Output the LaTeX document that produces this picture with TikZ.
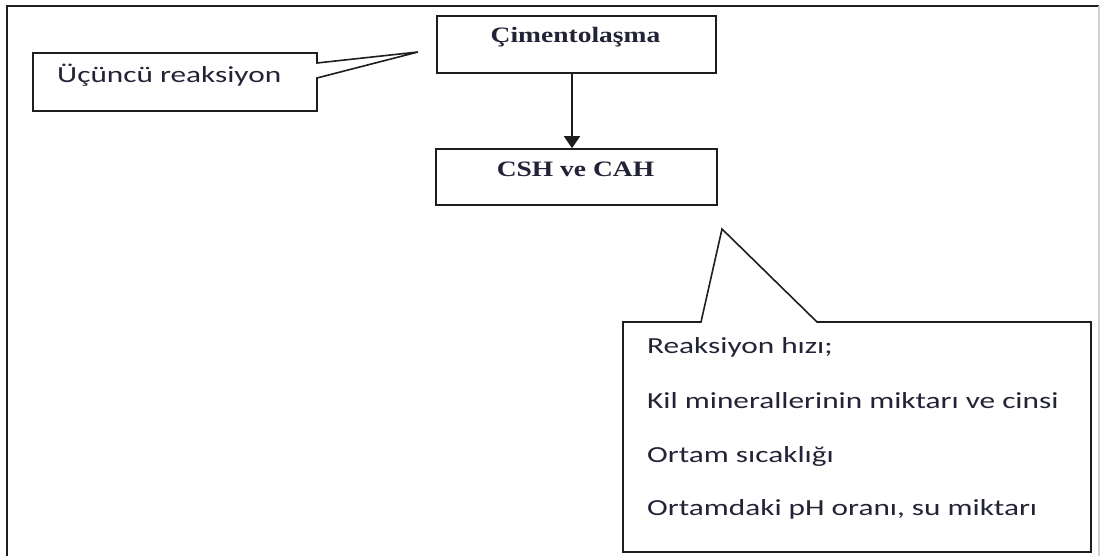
\documentclass[tikz,border=0pt]{standalone}
\usepackage{fontspec}
\setmainfont{Liberation Serif}
\newfontfamily\serifw[FakeStretch=1.25]{Liberation Serif}
\newfontfamily\sansw[FakeStretch=1.36]{Carlito}
\usetikzlibrary{arrows.meta}
\definecolor{txt}{RGB}{35,35,55}
\definecolor{ln}{RGB}{30,30,30}
\begin{document}
\begin{tikzpicture}[x=1pt,y=-1pt,
  boxline/.style={draw=ln, line width=1.6pt},
  stepbox/.style={boxline, rectangle, inner sep=0pt},
  serlabel/.style={anchor=base, text=txt, font=\serifw\bfseries\fontsize{22}{26}\selectfont},
  sanlabel/.style={anchor=base west, text=txt, font=\sansw\fontsize{23}{27}\selectfont, inner sep=0pt},
  conn/.style={draw=ln, line width=1.6pt, -{Triangle[length=12pt,width=16pt]}}]
\useasboundingbox (0,0) rectangle (1101,556);
\fill[white] (0,0) rectangle (1101,556);
% outer frame
\draw[ln, line width=2.2pt] (7,556) -- (7,6) -- (1099,6);
\draw[gray!35, line width=1.5pt] (1099,6) -- (1099,556);

% main boxes
\node[stepbox, minimum width=279pt, minimum height=57pt] (cim) at (576.5,44.5) {};
\node[serlabel] (cimt) at (575.5,43) {Çimentolaşma};
\node[stepbox, minimum width=281pt, minimum height=56pt] (csh) at (576.5,177) {};
\node[serlabel] (csht) at (575.5,177) {CSH ve CAH};
\draw[conn] ([xshift=-4.5pt]cim.south) -- ([xshift=-4.5pt]csh.north);

% left callout
\coordinate (tipA) at (418,52);
\draw[boxline, line join=miter] (33,53) -- (317,53) -- (317,63) -- (tipA) -- (317,78) -- (317,111) -- (33,111) -- cycle;
\node[sanlabel] (ucun) at (57,83) {Üçüncü reaksiyon};

% right callout
\coordinate (tipB) at (722,229);
\draw[boxline, line join=miter] (623,322) -- (701,322) -- (tipB) -- (817,322) -- (1091,322) -- (1091,552) -- (623,552) -- cycle;
\node[sanlabel] (r1) at (647,353) {Reaksiyon hızı;};
\node[sanlabel] (r2) at (647,408) {Kil minerallerinin miktarı ve cinsi};
\node[sanlabel] (r3) at (647,462) {Ortam sıcaklığı};
\node[sanlabel] (r4) at (647,515) {Ortamdaki pH oranı, su miktarı};
\end{tikzpicture}
\end{document}
